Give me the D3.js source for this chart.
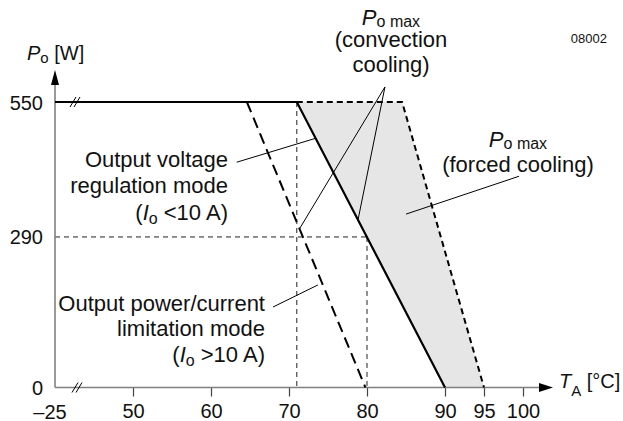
<!DOCTYPE html>
<html>
<head>
<meta charset="utf-8">
<script src="https://cdn.jsdelivr.net/npm/d3@7"></script>
<style>
  html, body { margin: 0; padding: 0; background: #fff; }
  svg { display: block; font-family: "Liberation Sans", Arial, Helvetica, sans-serif; }
</style>
</head>
<body>
<svg id="chart" width="623" height="421"></svg>
<script>
// Ambient temperature axis (°C); the left end is the broken origin at –25 °C
const xTicks = [50, 60, 70, 80, 90, 95, 100];
const xOrigin = 40;
const xOriginLabel = "–25";
// Output power axis (W)
const yTicks = [0, 290, 550];

// Derating curves: temperature (°C) vs. output power (W)
const convectionCurve = [[40, 550], [71, 550], [90, 0]];
const forcedCurve = [[71, 550], [84.5, 550], [95, 0]];
const limitationCurve = [[64.6, 550], [79.8, 0]];
// Extra power available with forced cooling
const forcedBand = [[71, 550], [84.5, 550], [95, 0], [90, 0]];
// Reference guides
const guideLines = [
  [[71, 550], [71, 0]],
  [[40, 290], [80, 290]],
  [[80, 290], [80, 0]]
];

// Leader lines from each note to its curve
const convectionLeaders = [
  [[82.3, 579], [71.4, 307]],
  [[82.3, 579], [78.85, 323]]
];
const voltageLeader = [[63.3, 434], [73.4, 480]];
const limitationLeader = [[67.95, 155], [73.7, 197.5]];
const forcedLeader = [[85.0, 334], [99.5, 407]];

// Note texts (it = italic, sub = subscript)
const convectionNote = [
  [{ t: "P", it: 1 }, { t: "o max", sub: 1 }],
  [{ t: "(convection" }],
  [{ t: "cooling)" }]
];
const forcedNote = [
  [{ t: "P", it: 1 }, { t: "o max", sub: 1 }],
  [{ t: "(forced cooling)" }]
];
const voltageNote = [
  [{ t: "Output voltage" }],
  [{ t: "regulation mode" }],
  [{ t: "(" }, { t: "I", it: 1 }, { t: "o", sub: 1 }, { t: " <10 A)" }]
];
const limitationNote = [
  [{ t: "Output power/current" }],
  [{ t: "limitation mode" }],
  [{ t: "(" }, { t: "I", it: 1 }, { t: "o", sub: 1 }, { t: " >10 A)" }]
];
const yTitle = [{ t: "P", it: 1 }, { t: "o", sub: 1 }, { t: " [W]" }];
const xTitle = [{ t: "T", it: 1 }, { t: "A", sub: 1 }, { t: " [°C]" }];
const figureId = "08002";

const svg = d3.select("#chart");
const FS = 20, NOTE_FS = 22;

const x = d3.scaleLinear().domain([xOrigin, 100]).range([55, 523]);
const y = d3.scaleLinear().domain([0, 550]).range([387.5, 102]);
const line = d3.line().x(d => x(d[0])).y(d => y(d[1]));

// Rich text with italic letters and subscripts
function richLine(g, parts, px, py, anchor, size, subSize, subShift) {
  const t = g.append("text").attr("x", px).attr("y", py)
    .attr("text-anchor", anchor).attr("font-size", size).attr("fill", "#111");
  let shifted = false;
  parts.forEach(p => {
    const s = t.append("tspan").text(p.t);
    if (p.it) s.attr("font-style", "italic");
    if (p.sub) {
      s.attr("font-size", subSize).attr("dy", subShift);
      shifted = true;
    } else if (shifted) {
      s.attr("dy", -subShift);
      shifted = false;
    }
  });
  return t;
}
function note(lines, px, baselines, anchor, subShift = 3) {
  const g = svg.append("g");
  lines.forEach((parts, i) => richLine(g, parts, px, baselines[i], anchor, NOTE_FS, 16, subShift));
}

// Shaded band
svg.append("path")
  .attr("d", line(forcedBand) + "Z")
  .attr("fill", "#e6e6e6");

// Guides
guideLines.forEach(seg => {
  svg.append("path").attr("d", line(seg))
    .attr("fill", "none").attr("stroke", "#222").attr("stroke-width", 1)
    .attr("stroke-dasharray", "5,4");
});

// Axes
const axisColor = "#808080";
const xAxis = d3.axisBottom(x).tickValues(xTicks).tickSize(9).tickPadding(7)
  .tickFormat(d3.format("d"));
const gx = svg.append("g").attr("transform", `translate(0,${y(0)})`).call(xAxis);
gx.select(".domain").remove();
gx.selectAll(".tick line").attr("stroke", "#444").attr("stroke-width", 1.2);
gx.selectAll(".tick text").attr("font-size", FS).attr("fill", "#111")
  .attr("font-family", "Liberation Sans, Arial, sans-serif");
gx.append("text").attr("x", x(xOrigin) - 5).attr("y", 31)
  .attr("text-anchor", "middle").attr("font-size", FS).attr("fill", "#111")
  .text(xOriginLabel);

svg.append("line").attr("x1", x(xOrigin)).attr("x2", 540).attr("y1", y(0)).attr("y2", y(0))
  .attr("stroke", axisColor).attr("stroke-width", 1.6);
svg.append("path").attr("d", `M539,${y(0) - 4.5}L553,${y(0)}L539,${y(0) + 4.5}Z`).attr("fill", "#000");

svg.append("line").attr("x1", x(xOrigin)).attr("x2", x(xOrigin)).attr("y1", y(0)).attr("y2", 84)
  .attr("stroke", axisColor).attr("stroke-width", 1.6);
svg.append("path").attr("d", `M${x(xOrigin) - 4},85L${x(xOrigin)},70L${x(xOrigin) + 4},85Z`).attr("fill", "#000");

const gy = svg.append("g");
yTicks.forEach(v => {
  gy.append("text").attr("x", 43).attr("y", y(v) + 7.5)
    .attr("text-anchor", "end").attr("font-size", FS).attr("fill", "#111").text(v);
});

// Curves
svg.append("path").attr("d", line(limitationCurve))
  .attr("fill", "none").attr("stroke", "#000").attr("stroke-width", 2)
  .attr("stroke-dasharray", "11,6");
svg.append("path").attr("d", line(forcedCurve))
  .attr("fill", "none").attr("stroke", "#000").attr("stroke-width", 2)
  .attr("stroke-dasharray", "6,4");
svg.append("path").attr("d", line(convectionCurve))
  .attr("fill", "none").attr("stroke", "#000").attr("stroke-width", 2.2)
  .attr("stroke-linejoin", "miter");

// Axis breaks
function breakMark(cx, cy) {
  [-2, 2].forEach(o => {
    svg.append("line")
      .attr("x1", cx + o - 3).attr("y1", cy + 5)
      .attr("x2", cx + o + 3).attr("y2", cy - 5)
      .attr("stroke", "#000").attr("stroke-width", 1);
  });
}
breakMark(75, y(550));
breakMark(77, y(0));

// Leaders
[...convectionLeaders, voltageLeader, limitationLeader, forcedLeader].forEach(seg => {
  svg.append("path").attr("d", line(seg))
    .attr("fill", "none").attr("stroke", "#000").attr("stroke-width", 1);
});

// Notes
note(convectionNote, 391, [25, 47, 72], "middle", 2);
note(forcedNote, 518, [147, 171.7], "middle", 2);
note(voltageNote, 228, [166.5, 193, 219.5], "end", 4);
note(limitationNote, 265, [310.5, 336, 361.7], "end", 4);

// Axis titles
richLine(svg, yTitle, 27, 59.5, "start", FS, 15, 3);
richLine(svg, xTitle, 559, 388, "start", FS, 15, 8);

svg.append("text").attr("x", 607).attr("y", 43).attr("text-anchor", "end")
  .attr("font-size", 13).attr("fill", "#111").text(figureId);
</script>
</body>
</html>
